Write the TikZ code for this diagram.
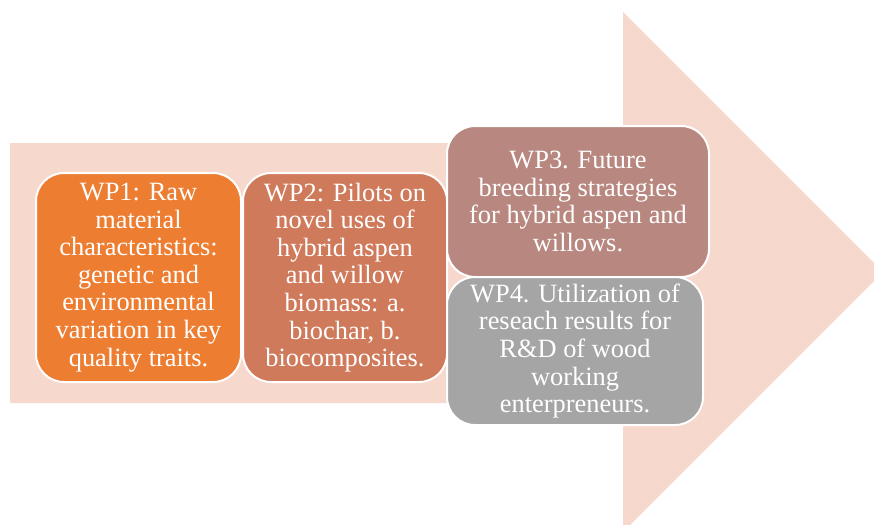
\documentclass[tikz,border=0pt]{standalone}
\usepackage{fontspec}
\setmainfont{Liberation Serif}
\usepackage{xcolor}
\usepackage{tikz}
\usetikzlibrary{positioning,calc}

\definecolor{arrowbg}{RGB}{247,216,205}
\definecolor{wpone}{RGB}{237,125,49}
\definecolor{wptwo}{RGB}{208,122,92}
\definecolor{wpthree}{RGB}{184,136,128}
\definecolor{wpfour}{RGB}{165,165,165}

\tikzset{
  wpbox/.style={draw=white,line width=2pt,rounded corners=28pt,inner sep=0pt,
    align=center,text=white,font=\fontsize{26.4}{27.6}\selectfont}
}

\begin{document}
\begin{tikzpicture}[x=1pt,y=-1pt]
\useasboundingbox (0,0) rectangle (874,524);
\clip (0,0) rectangle (874,524);
% big arrow behind the work packages
\fill[arrowbg] (10,143)--(623,143)--(623,12)--(883,272)--(623,532)--(623,403)--(10,403)--cycle;
\node[wpbox,fill=wpone,minimum width=205pt,minimum height=209pt] (wp1) at (138.5,277.5)
  {WP1: Raw\\material\\characteristics:\\genetic and\\environmental\\variation in key\\quality traits.};
\node[wpbox,fill=wptwo,minimum width=204pt,minimum height=209pt] (wp2) at (345,277.5)
  {WP2: Pilots on\\novel uses of\\hybrid aspen\\and willow\\biomass: a.\\biochar, b.\\biocomposites.};
\node[wpbox,fill=wpthree,minimum width=262pt,minimum height=151pt] (wp3) at (578,201.5)
  {WP3. Future\\breeding strategies\\for hybrid aspen and\\willows.};
\node[wpbox,fill=wpfour,minimum width=256pt,minimum height=148pt] (wp4) at (575,351)
  {WP4. Utilization of\\reseach results for\\R\&D of wood\\working\\enterpreneurs.};
\end{tikzpicture}
\end{document}
